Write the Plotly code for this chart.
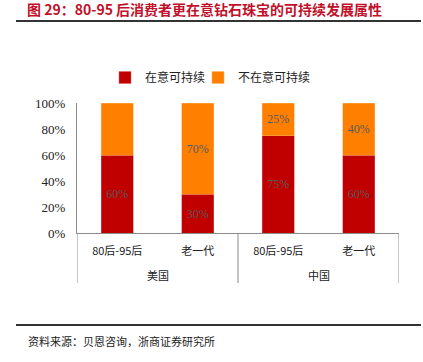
import plotly.graph_objects as go

countries = ["美国", "中国"]
generations = ["80后-95后", "老一代", "80后-95后", "老一代"]
positions = [0, 1, 2, 3]
care = [60, 30, 75, 60]
not_care = [40, 70, 25, 40]
care_labels = ["60%", "30%", "75%", "60%"]
not_care_labels = ["", "70%", "25%", "40%"]
yticks = [0, 20, 40, 60, 80, 100]
ytick_text = ["0%", "20%", "40%", "60%", "80%", "100%"]

title_text = "图 29：80-95 后消费者更在意钻石珠宝的可持续发展属性"
source_text = "资料来源：贝恩咨询，浙商证券研究所"

CJK = "Noto Sans CJK SC"
SERIF = "Liberation Serif, Noto Sans CJK SC"

fig = go.Figure()
fig.add_trace(go.Bar(
    name="在意可持续", x=positions, y=care, text=care_labels, textposition="inside",
    insidetextanchor="middle", textfont=dict(color="#595959", size=12, family=SERIF),
    marker=dict(color="#C00000", line=dict(color="#E06060", width=0.5)),
    width=0.4, hoverinfo="skip", legend="legend",
))
fig.add_trace(go.Bar(
    name="不在意可持续", x=positions, y=not_care, text=not_care_labels, textposition="inside",
    insidetextanchor="middle", textfont=dict(color="#595959", size=12, family=SERIF),
    marker=dict(color="#FF8000", line=dict(color="#FFB060", width=0.5)),
    width=0.4, hoverinfo="skip", legend="legend2",
))

L, R, T, B = 77, 24, 103, 129
W, H = 423, 362
pw, ph = W - L - R, H - T - B

def px_x(px):
    return (px - L) / pw

def px_y(py):
    return (H - B - py) / ph

legend_common = dict(orientation="h", xanchor="left", y=px_y(63), yanchor="top",
                     font=dict(family=CJK, size=12, color="#222222"),
                     itemwidth=30, bgcolor="rgba(0,0,0,0)")

fig.update_layout(
    width=W, height=H,
    margin=dict(l=L, r=R, t=T, b=B, autoexpand=False),
    barmode="stack",
    plot_bgcolor="white", paper_bgcolor="white",
    font=dict(family=CJK, size=11, color="#222222"),
    showlegend=True,
    legend=dict(x=px_x(105), **legend_common),
    legend2=dict(x=px_x(198), **legend_common),
    xaxis=dict(range=[-0.5, 3.5], tickvals=positions, ticktext=generations,
               showline=True, linecolor="#8c8c8c", linewidth=1, automargin=False,
               ticks="", ticklabelstandoff=8,
               tickfont=dict(family=CJK, size=11, color="#222222"),
               showgrid=False, zeroline=False, fixedrange=True),
    yaxis=dict(range=[0, 100], tickvals=yticks, ticktext=ytick_text, automargin=False,
               showline=True, linecolor="#8c8c8c", linewidth=1, ticks="",
               showgrid=False, zeroline=False, ticklabelstandoff=8, fixedrange=True,
               tickfont=dict(family="Liberation Serif", size=13, color="#222222")),
)

# group labels
for i, c in enumerate(countries):
    fig.add_annotation(text=c, xref="x", yref="paper", x=2 * i + 0.5, y=px_y(275),
                       xanchor="center", yanchor="middle", showarrow=False,
                       font=dict(family=CJK, size=11, color="#222222"))

# group dividers
for xv in (-0.5, 1.5, 3.5):
    fig.add_shape(type="line", xref="x", yref="paper", x0=xv, x1=xv,
                  y0=0, y1=px_y(283), line=dict(color="#8c8c8c", width=1))

fig.add_annotation(text=title_text, xref="paper", yref="paper",
                   x=px_x(25), y=px_y(9), xanchor="left", yanchor="middle",
                   showarrow=False,
                   font=dict(family=CJK, size=14, color="#C0102A", weight="bold"))
fig.add_annotation(text=source_text, xref="paper", yref="paper",
                   x=px_x(26), y=px_y(341), xanchor="left", yanchor="middle",
                   showarrow=False,
                   font=dict(family=CJK, size=11, color="#222222"))

for py in (21, 325):
    fig.add_shape(type="line", xref="paper", yref="paper",
                  x0=px_x(16), x1=px_x(421), y0=px_y(py), y1=px_y(py),
                  line=dict(color="#333333", width=2))

fig.write_html("out.html", config={"displayModeBar": False, "staticPlot": True},
               post_script="document.body.style.margin='0';document.body.style.padding='0';")
